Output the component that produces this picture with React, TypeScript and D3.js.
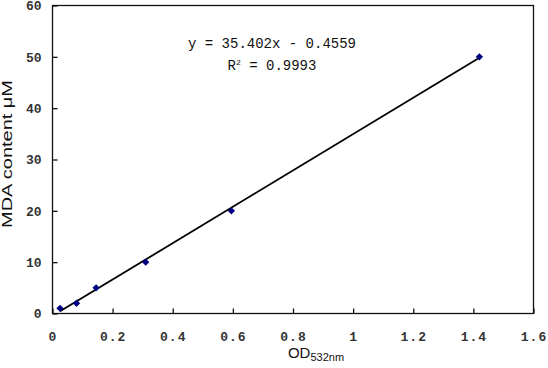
import React, { useEffect, useRef } from 'react';
import * as d3 from 'd3';

const odValues = [0.025, 0.08, 0.145, 0.31, 0.595, 1.42];
const mdaValues = [1, 2, 5, 10, 20, 50];
const xTicks = [0, 0.2, 0.4, 0.6, 0.8, 1, 1.2, 1.4, 1.6];
const yTicks = [0, 10, 20, 30, 40, 50, 60];
const slope = 35.402;
const intercept = -0.4559;
const eqLines = ['y = 35.402x - 0.4559', '= 0.9993'];

function App() {
  const svgRef = useRef<SVGSVGElement>(null);
  const width = 548;
  const height = 368;

  useEffect(() => {
    const svg = d3.select(svgRef.current);
    svg.selectAll('*').remove();

    const margin = { top: 5.5, right: 14.5, bottom: 54.5, left: 52.5 };
    const x = d3.scaleLinear().domain([0, 1.6]).range([margin.left, width - margin.right]);
    const y = d3.scaleLinear().domain([0, 60]).range([height - margin.bottom, margin.top]);
    const mono = '"Liberation Mono", "DejaVu Sans Mono", monospace';

    svg.append('rect').attr('width', width).attr('height', height).attr('fill', '#fff');

    // bottom axis, ticks pointing inward
    const xAxis = svg.append('g')
      .attr('transform', `translate(0, ${y(0)})`)
      .call(d3.axisBottom(x).tickValues(xTicks).tickSizeInner(-5).tickSizeOuter(0)
        .tickFormat(d => (+d === 0 || +d === 1 ? String(d) : d3.format('.1f')(+d))));
    xAxis.selectAll('text')
      .attr('y', 18)
      .style('font-family', mono)
      .style('font-size', '13px')
      .style('font-weight', 'bold')
      .style('letter-spacing', '1px')
      .attr('fill', '#333');

    const yAxis = svg.append('g')
      .attr('transform', `translate(${x(0)}, 0)`)
      .call(d3.axisLeft(y).tickValues(yTicks).tickSizeInner(-5).tickSizeOuter(0));
    yAxis.selectAll('text')
      .attr('x', -11)
      .style('font-family', mono)
      .style('font-size', '13px')
      .style('font-weight', 'bold')
      .attr('fill', '#333');

    svg.selectAll('.domain').remove();
    svg.selectAll('.tick line').attr('stroke', '#111').attr('stroke-width', 1.3);

    // frame
    svg.append('rect')
      .attr('x', x(0)).attr('y', y(60))
      .attr('width', x(1.6) - x(0)).attr('height', y(0) - y(60))
      .attr('fill', 'none').attr('stroke', '#111').attr('stroke-width', 1.3);

    // trendline
    const [x0, x1] = d3.extent(odValues) as [number, number];
    const line = d3.line<number>().x(d => x(d)).y(d => y(slope * d + intercept));
    svg.append('path')
      .attr('d', line([x0, x1]))
      .attr('fill', 'none').attr('stroke', '#000').attr('stroke-width', 1.8);

    // points
    const diamond = d3.symbol().type(d3.symbolDiamond2).size(34);
    svg.selectAll('path.pt')
      .data(odValues)
      .enter()
      .append('path')
      .attr('class', 'pt')
      .attr('d', diamond)
      .attr('transform', (d, i) => `translate(${x(d)}, ${y(mdaValues[i])})`)
      .attr('fill', '#000080');

    // equation
    svg.append('text')
      .attr('x', 272).attr('y', 48)
      .attr('text-anchor', 'middle')
      .style('font-family', mono).style('font-size', '14px')
      .attr('fill', '#111')
      .text(eqLines[0]);
    const r2 = svg.append('text')
      .attr('x', 272).attr('y', 70)
      .attr('text-anchor', 'middle')
      .style('font-family', mono).style('font-size', '14px')
      .attr('fill', '#111');
    r2.append('tspan').text('R');
    r2.append('tspan').attr('dy', -5).style('font-size', '8px').text('2');
    r2.append('tspan').attr('dy', 5).text(' ' + eqLines[1]);

    // axis titles
    svg.append('text')
      .attr('transform', `translate(12, 154) rotate(-90)`)
      .attr('text-anchor', 'middle')
      .attr('textLength', 148)
      .attr('lengthAdjust', 'spacingAndGlyphs')
      .style('font-family', '"Liberation Sans", Arial, sans-serif')
      .style('font-size', '14px')
      .attr('fill', '#111')
      .text('MDA content μM');

    const xt = svg.append('text')
      .attr('x', 316).attr('y', 358)
      .attr('text-anchor', 'middle')
      .style('font-family', '"Liberation Sans", Arial, sans-serif')
      .style('font-size', '15px')
      .attr('fill', '#111');
    xt.append('tspan').text('OD');
    xt.append('tspan').attr('dy', 3).style('font-size', '11px').text('532nm');
  }, []);

  return (
    <svg ref={svgRef} width={width} height={height}
      style={{ position: 'absolute', left: 0, top: 0 }} />
  );
}

export default App;
